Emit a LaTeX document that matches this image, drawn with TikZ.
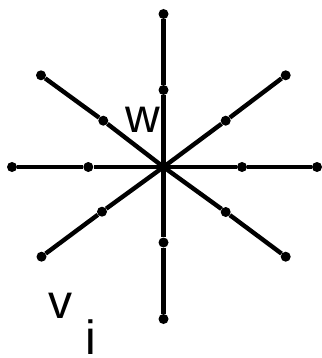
\documentclass[tikz,border=0pt]{standalone}
\usepackage{fontspec}
\setmainfont{Liberation Sans}
\usetikzlibrary{positioning}

\begin{document}
\begin{tikzpicture}[
  x=1pt,y=-1pt,
  dot/.style={circle,fill=black,inner sep=0pt,minimum size=10pt},
  spoke/.style={line width=4.4pt},
  lbl/.style={inner sep=0pt,font=\fontsize{48}{48}\selectfont}
]
\useasboundingbox (0,0) rectangle (321,358);
\coordinate (c) at (163.5,167);
% outer ends
\node[dot] (e1) at (163.5,14) {};
\node[dot] (e2) at (285.7,75.3) {};
\node[dot] (e3) at (317,167) {};
\node[dot] (e4) at (285.7,256.7) {};
\node[dot] (e5) at (163.5,319) {};
\node[dot] (e6) at (41.5,256.7) {};
\node[dot] (e7) at (12,167) {};
\node[dot] (e8) at (41,75.3) {};
% middle points
\node[dot] (m1) at (163.5,90) {};
\node[dot] (m2) at (225.7,120.7) {};
\node[dot] (m3) at (242,167) {};
\node[dot] (m4) at (225.7,212) {};
\node[dot] (m5) at (163.5,242.5) {};
\node[dot] (m6) at (102,211.7) {};
\node[dot] (m7) at (88.3,167) {};
\node[dot] (m8) at (103.3,120.7) {};
\foreach \k in {1,...,8}
  \draw[spoke] (c) -- (m\k) -- (e\k);
% labels
\node[lbl] (w) at (142.5,119.5) {w};
\node[lbl] (v) at (60.5,306) {v};
\node[lbl] (i) at (91,337) {i};
\end{tikzpicture}
\end{document}
